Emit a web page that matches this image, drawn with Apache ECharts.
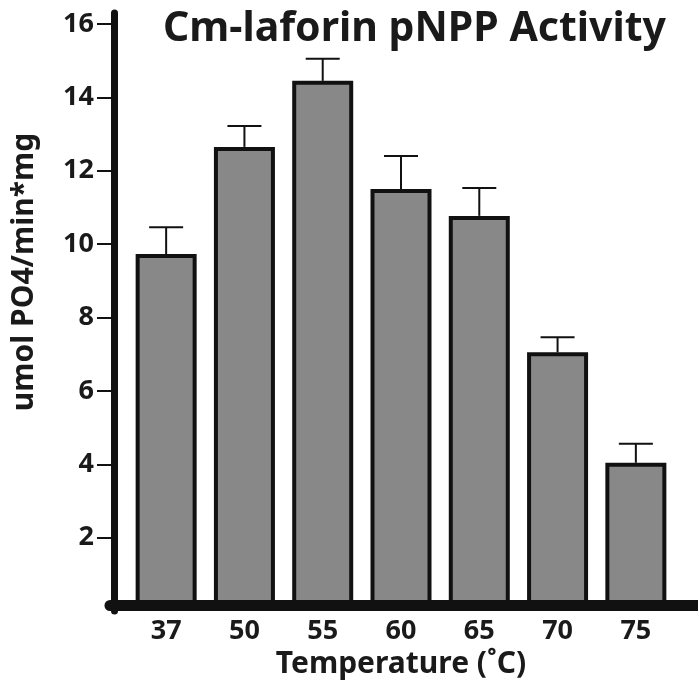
<!DOCTYPE html>
<html>
<head>
<meta charset="utf-8">
<title>Cm-laforin pNPP Activity</title>
<script src="https://cdn.jsdelivr.net/npm/echarts@6/dist/echarts.min.js"></script>
<style>
  html, body { margin: 0; padding: 0; background: #fff; }
  #chart { width: 698px; height: 687px; }
</style>
</head>
<body>
<div id="chart"></div>
<script>
// temperatures (°C)
const temps = ['37', '50', '55', '60', '65', '70', '75']
// activity, umol PO4/min*mg
const activity = [9.73, 12.65, 14.45, 11.5, 10.77, 7.05, 4.04]
// upper error (SD)
const errors = [0.73, 0.57, 0.6, 0.9, 0.76, 0.41, 0.52]
const yTicks = [2, 4, 6, 8, 10, 12, 14, 16]

const fontFamily = '"Noto Sans", "Liberation Sans", sans-serif'
const ink = '#1a1a1a'

const chart = echarts.init(document.getElementById('chart'))

const errData = activity.map((v, i) => [i, v, errors[i]])

const option = {
  backgroundColor: '#fff',
  animation: false,
  title: {
    text: 'Cm-laforin pNPP Activity',
    left: 158,
    top: 4,
    textStyle: {
      fontFamily,
      fontSize: 41,
      fontWeight: 'bold',
      color: ink
    }
  },
  graphic: [{
    type: 'text',
    x: 24,
    y: 272,
    rotation: Math.PI / 2,
    style: {
      text: 'umol PO4/min*mg',
      fontFamily,
      fontSize: 30,
      fontWeight: 'bold',
      fill: ink,
      align: 'center',
      verticalAlign: 'middle'
    }
  }],
  grid: [
    { left: 127, right: 23, top: 13, bottom: 76 }, // bars
    { left: 110, right: 0, top: 13, bottom: 81.5 } // thick base line
  ],
  xAxis: [{
    type: 'category',
    gridIndex: 0,
    data: temps,
    axisLine: { show: false },
    axisTick: { show: false },
    axisLabel: {
      margin: 7,
      fontFamily,
      fontSize: 27,
      fontWeight: 'bold',
      color: ink
    },
    name: 'Temperature (˚C)',
    nameLocation: 'middle',
    nameGap: 31,
    nameTextStyle: {
      fontFamily,
      fontSize: 30,
      fontWeight: 'bold',
      color: ink
    }
  }, {
    type: 'value',
    gridIndex: 1,
    z: 5,
    axisLine: { show: true, lineStyle: { color: '#111', width: 11 } },
    axisTick: { show: false },
    axisLabel: { show: false },
    splitLine: { show: false }
  }],
  yAxis: [{
    type: 'value',
    gridIndex: 0,
    min: 0,
    max: 16.3,
    offset: 13,
    axisLine: { show: true, lineStyle: { color: '#111', width: 7 } },
    axisTick: {
      show: true,
      length: 17,
      customValues: yTicks,
      lineStyle: { color: '#111', width: 2 }
    },
    axisLabel: {
      customValues: yTicks,
      margin: 20,
      fontFamily,
      fontSize: 27,
      fontWeight: 'bold',
      color: ink
    },
    splitLine: { show: false }
  }, {
    type: 'value',
    gridIndex: 1,
    show: false
  }],
  series: [{
    type: 'bar',
    xAxisIndex: 0,
    yAxisIndex: 0,
    data: activity,
    barWidth: 61,
    itemStyle: {
      color: '#888',
      borderColor: '#111',
      borderWidth: 4
    }
  }, {
    type: 'custom',
    xAxisIndex: 0,
    yAxisIndex: 0,
    data: errData,
    z: 3,
    renderItem(params, api) {
      const base = api.coord([api.value(0), api.value(1)])
      const top = api.coord([api.value(0), api.value(1) + api.value(2)])
      const cap = 17
      const style = { stroke: '#111', lineWidth: 2 }
      return {
        type: 'group',
        children: [
          { type: 'line', shape: { x1: base[0], y1: base[1], x2: top[0], y2: top[1] }, style },
          { type: 'line', shape: { x1: top[0] - cap, y1: top[1], x2: top[0] + cap, y2: top[1] }, style }
        ]
      }
    }
  }]
}

chart.setOption(option)
</script>
</body>
</html>
